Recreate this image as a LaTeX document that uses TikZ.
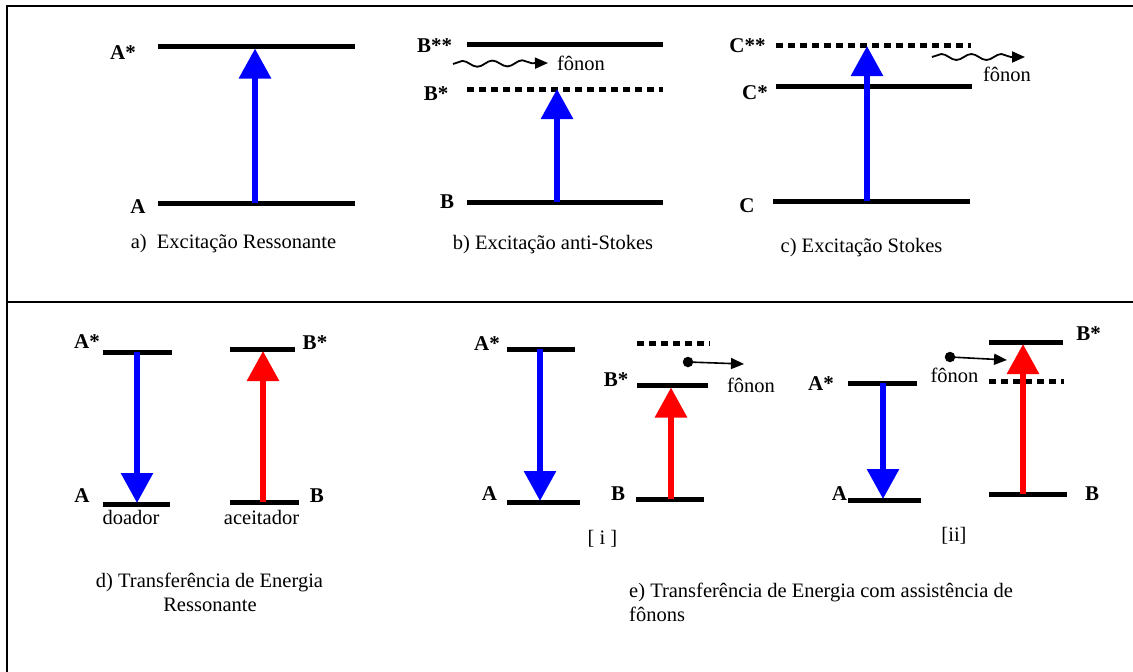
\documentclass[tikz,border=0pt]{standalone}
\usepackage{fontspec}
\setmainfont{Liberation Serif}
\usetikzlibrary{arrows.meta,decorations.pathmorphing}
\begin{document}
\begin{tikzpicture}[x=1pt,y=-1pt,
  lvl/.style={line width=5pt},
  virt/.style={line width=5pt, dash pattern=on 7pt off 5pt},
  frame/.style={line width=2.5pt, line join=miter},
  bigarrow/.style={line width=6pt, -{Triangle[width=31pt,length=30pt]}},
  lab/.style={font=\fontsize{21}{24}\selectfont\bfseries, inner sep=0pt, anchor=base},
  txt/.style={font=\fontsize{20.5}{24}\selectfont, inner sep=0pt, anchor=base},
  wave/.style={line width=1.8pt, decorate, decoration={snake, segment length=30pt, amplitude=3pt, post length=13pt}, -{Triangle[width=11pt,length=13pt]}},
  ph/.style={line width=1.6pt, -{Triangle[width=11pt,length=13pt]}},
  dot/.style={circle, fill=black, inner sep=0pt, minimum size=10.5pt},
]
\useasboundingbox (0,0) rectangle (1133,672);
\fill[white] (0,0) rectangle (1133,672);
% frame
\coordinate (fTR) at (1133,6);
\coordinate (fTL) at (7,6);
\coordinate (fBL) at (7,672);
\coordinate (fML) at (7,302);
\coordinate (fMR) at (1133,302);
\draw[frame] (fTR) -- (fTL) -- (fBL);
\draw[frame] (fML) -- (fMR);

% ---------- panel a
\coordinate (a1L) at (158,46);  \coordinate (a1R) at (355,46);
\coordinate (a0L) at (158,203); \coordinate (a0R) at (355,203);
\draw[lvl] (a1L) -- (a1R);
\draw[lvl] (a0L) -- (a0R);
\coordinate (a0) at (255,203); \coordinate (a1) at (255,48.5);
\draw[bigarrow, blue] (a0) -- (a1);
\node[lab] (laA1) at (123,59) {A*};
\node[lab] (laA0) at (138,213) {A};
\node[txt] (capa) at (233.5,248) {a)\ \ Excitação Ressonante};

% ---------- panel b
\coordinate (b2L) at (467,44);  \coordinate (b2R) at (663,44);
\coordinate (b1L) at (467,89);  \coordinate (b1R) at (663,89);
\coordinate (b0L) at (467,202); \coordinate (b0R) at (663,202);
\draw[lvl] (b2L) -- (b2R);
\draw[virt] (b1L) -- (b1R);
\draw[lvl] (b0L) -- (b0R);
\coordinate (b0) at (557,202); \coordinate (b1) at (557,89);
\draw[bigarrow, blue] (b0) -- (b1);
\coordinate (bw1) at (453,64); \coordinate (bw2) at (548,63);
\draw[wave] (bw1) -- (bw2);
\node[txt] (bfon) at (581,70) {fônon};
\node[lab] (lbB2) at (434.5,52) {B**};
\node[lab] (lbB1) at (436,100) {B*};
\node[lab] (lbB0) at (447,208) {B};
\node[txt] (capb) at (553,249) {b) Excitação anti-Stokes};

% ---------- panel c
\coordinate (c2L) at (776,45);  \coordinate (c2R) at (971,45);
\coordinate (c1L) at (776,86);  \coordinate (c1R) at (972,86);
\coordinate (c0L) at (773,201); \coordinate (c0R) at (970,201);
\draw[virt] (c2L) -- (c2R);
\draw[lvl] (c1L) -- (c1R);
\draw[lvl] (c0L) -- (c0R);
\coordinate (c0) at (867,201); \coordinate (c2) at (867,46);
\draw[bigarrow, blue] (c0) -- (c2);
\coordinate (cw1) at (932,57); \coordinate (cw2) at (1025,57);
\draw[wave] (cw1) -- (cw2);
\node[txt] (cfon) at (1007,81) {fônon};
\node[lab] (lcC2) at (747.5,52) {C**};
\node[lab] (lcC1) at (755,99) {C*};
\node[lab] (lcC0) at (747,212) {C};
\node[txt] (capc) at (861.5,252) {c) Excitação Stokes};

% ---------- panel d
\coordinate (dA1L) at (103,352); \coordinate (dA1R) at (172,352);
\coordinate (dA0L) at (103,504); \coordinate (dA0R) at (170,504);
\coordinate (dB1L) at (230,349); \coordinate (dB1R) at (295,349);
\coordinate (dB0L) at (230,502); \coordinate (dB0R) at (299,502);
\draw[lvl] (dA1L) -- (dA1R);
\draw[lvl] (dA0L) -- (dA0R);
\draw[lvl] (dB1L) -- (dB1R);
\draw[lvl] (dB0L) -- (dB0R);
\coordinate (dA1) at (137,352); \coordinate (dA0) at (137,503);
\coordinate (dB0) at (263,502); \coordinate (dB1) at (263,351);
\draw[bigarrow, blue] (dA1) -- (dA0);
\draw[bigarrow, red] (dB0) -- (dB1);
\node[lab] (ldA1) at (87,348) {A*};
\node[lab] (ldA0) at (82,502) {A};
\node[lab] (ldB1) at (315,349) {B*};
\node[lab] (ldB0) at (317,502) {B};
\node[txt] (ddoa) at (131,524) {doador};
\node[txt] (dace) at (261.5,524) {aceitador};
\node[txt] (capd1) at (209.5,587) {d) Transferência de Energia};
\node[txt] (capd2) at (210,611) {Ressonante};

% ---------- panel e [i]
\coordinate (eA1L) at (507,349); \coordinate (eA1R) at (575,349);
\coordinate (eA0L) at (507,502); \coordinate (eA0R) at (580,502);
\coordinate (eVL) at (637,343);  \coordinate (eVR) at (710,343);
\coordinate (eB1L) at (637,385); \coordinate (eB1R) at (708,385);
\coordinate (eB0L) at (636,499); \coordinate (eB0R) at (704,499);
\draw[lvl] (eA1L) -- (eA1R);
\draw[lvl] (eA0L) -- (eA0R);
\draw[virt] (eVL) -- (eVR);
\draw[lvl] (eB1L) -- (eB1R);
\draw[lvl] (eB0L) -- (eB0R);
\coordinate (eA1) at (540,349); \coordinate (eA0) at (540,501);
\coordinate (eB0) at (671,499); \coordinate (eB1) at (671,387.5);
\draw[bigarrow, blue] (eA1) -- (eA0);
\draw[bigarrow, red] (eB0) -- (eB1);
\node[dot] (edot) at (688,362) {};
\coordinate (ephT) at (744,364);
\draw[ph] (edot.center) -- (ephT);
\node[txt] (efon) at (751,392) {fônon};
\node[lab] (leA1) at (487,350) {A*};
\node[lab] (leA0) at (489.5,500) {A};
\node[lab] (leB1) at (616,386) {B*};
\node[lab] (leB0) at (618,500) {B};
\node[txt] (ei) at (602.5,544) {[ i ]};

% ---------- panel e [ii]
\coordinate (fA1L) at (848,383); \coordinate (fA1R) at (917,383);
\coordinate (fA0L) at (848,500); \coordinate (fA0R) at (921,500);
\coordinate (fB1L) at (989,342); \coordinate (fB1R) at (1063,342);
\coordinate (fVL) at (989,381);  \coordinate (fVR) at (1064,381);
\coordinate (fB0L) at (989,494); \coordinate (fB0R) at (1067,494);
\draw[lvl] (fA1L) -- (fA1R);
\draw[lvl] (fA0L) -- (fA0R);
\draw[lvl] (fB1L) -- (fB1R);
\draw[virt] (fVL) -- (fVR);
\draw[lvl] (fB0L) -- (fB0R);
\coordinate (fA1) at (883,383); \coordinate (fA0) at (883,499);
\coordinate (fB0) at (1023,494); \coordinate (fB1) at (1023,344);
\draw[bigarrow, blue] (fA1) -- (fA0);
\draw[bigarrow, red] (fB0) -- (fB1);
\node[dot] (fdot) at (950,357) {};
\coordinate (fphT) at (1007,360);
\draw[ph] (fdot.center) -- (fphT);
\node[txt] (ffon) at (954.5,382) {fônon};
\node[lab] (lfA1) at (821,390) {A*};
\node[lab] (lfA0) at (839.5,500) {A};
\node[lab] (lfB1) at (1088.5,340) {B*};
\node[lab] (lfB0) at (1092,500) {B};
\node[txt] (eii) at (954,541) {[ii]};

\node[txt, anchor=base west] (cape1) at (629,597) {e) Transferência de Energia com assistência de};
\node[txt, anchor=base west] (cape2) at (629,621) {fônons};
\end{tikzpicture}
\end{document}
